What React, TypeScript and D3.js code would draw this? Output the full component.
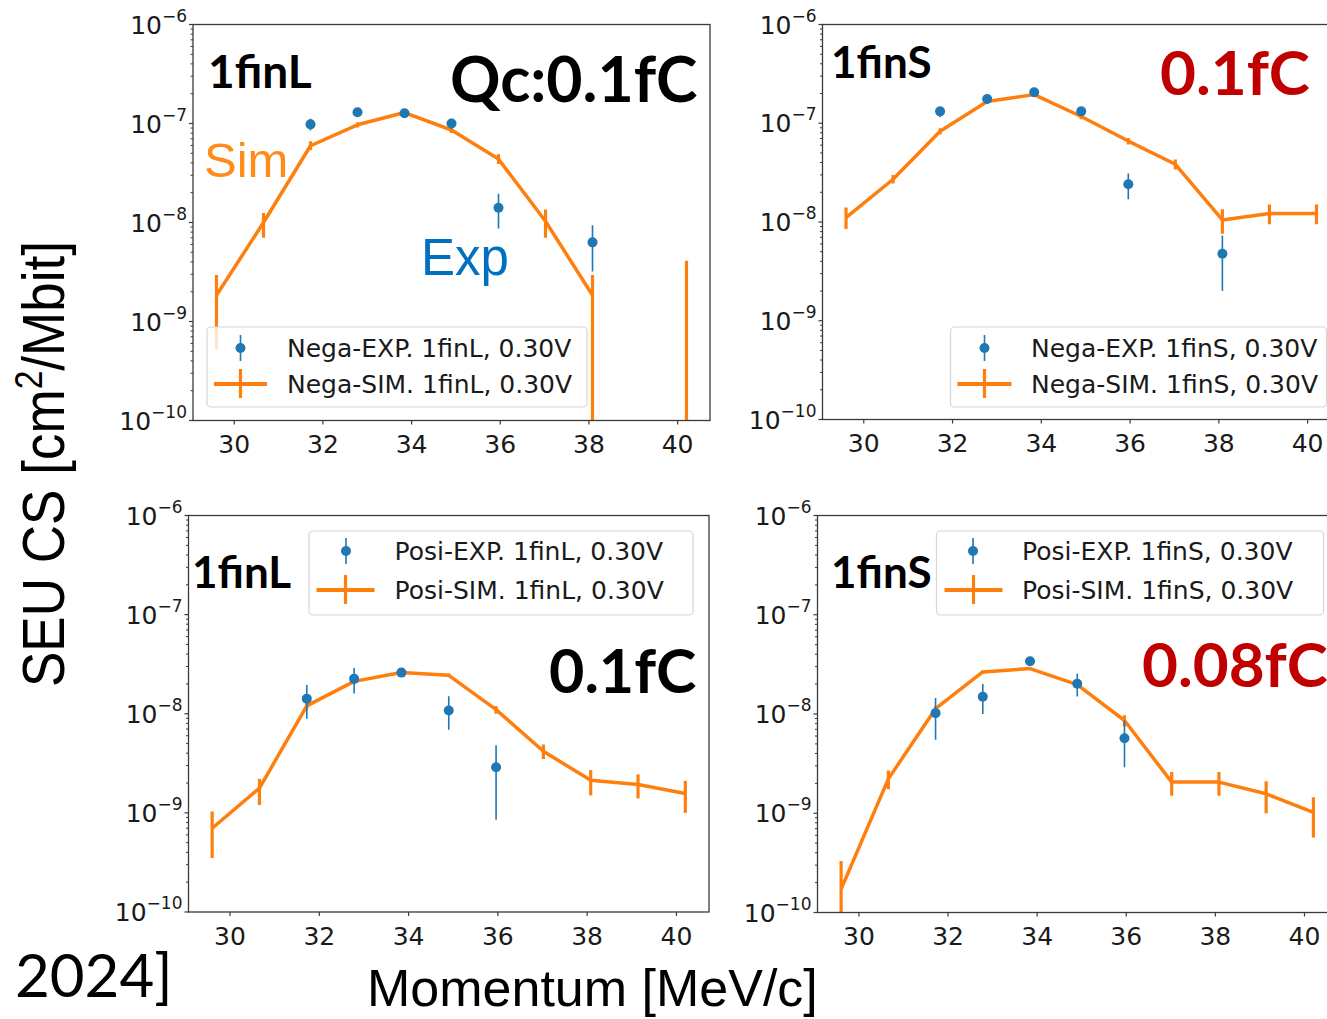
import React from 'react';
import * as d3 from 'd3';

// ---------- data ----------
const momentum = [29.6, 30.66, 31.72, 32.78, 33.84, 34.9, 35.96, 37.02, 38.08, 39.14, 40.2];
const expMomentumTop = [31.72, 32.78, 33.84, 34.9, 35.96, 38.08];
const expMomentumBottom = [31.72, 32.78, 33.84, 34.9, 35.96];
const xTicks = [30, 32, 34, 36, 38, 40];
const yTickExponents = [-6, -7, -8, -9, -10];

// null value = zero (not drawable on log axis); lo 0 = error bar reaches below axis
const negaSim1finL = [1.84e-9, 1.0e-8, 5.96e-8, 9.7e-8, 1.29e-7, 8.6e-8, 4.37e-8, 1.03e-8, 1.84e-9, null, null];
const negaSim1finLLo = [5.2e-10, 7.0e-9, 5.4e-8, 9.1e-8, 1.22e-7, 8.0e-8, 3.9e-8, 7.0e-9, 0, null, 0];
const negaSim1finLHi = [2.95e-9, 1.25e-8, 6.6e-8, 1.03e-7, 1.36e-7, 9.2e-8, 4.9e-8, 1.35e-8, 2.95e-9, null, 4.1e-9];
const negaExp1finL = [9.8e-8, 1.3e-7, 1.27e-7, 1.0e-7, 1.41e-8, 6.3e-9];
const negaExp1finLLo = [8.5e-8, 1.18e-7, 1.17e-7, 8.8e-8, 8.7e-9, 3.2e-9];
const negaExp1finLHi = [1.12e-7, 1.42e-7, 1.37e-7, 1.12e-7, 1.95e-8, 9.4e-9];

const negaSim1finS = [1.11e-8, 2.71e-8, 8.3e-8, 1.66e-7, 1.95e-7, 1.17e-7, 6.6e-8, 3.84e-8, 1.05e-8, 1.22e-8, 1.22e-8];
const negaSim1finSLo = [8.5e-9, 2.45e-8, 7.7e-8, 1.58e-7, 1.88e-7, 1.1e-7, 6.1e-8, 3.4e-8, 7.6e-9, 9.5e-9, 9.5e-9];
const negaSim1finSHi = [1.4e-8, 3.0e-8, 8.9e-8, 1.74e-7, 2.02e-7, 1.24e-7, 7.1e-8, 4.3e-8, 1.35e-8, 1.5e-8, 1.5e-8];
const negaExp1finS = [1.32e-7, 1.76e-7, 2.06e-7, 1.32e-7, 2.41e-8, 4.77e-9];
const negaExp1finSLo = [1.15e-7, 1.65e-7, 1.96e-7, 1.2e-7, 1.7e-8, 2.0e-9];
const negaExp1finSHi = [1.45e-7, 1.87e-7, 2.16e-7, 1.44e-7, 3.1e-8, 7.3e-9];

const posiSim1finL = [7.0e-10, 1.78e-9, 1.2e-8, 2.12e-8, 2.61e-8, 2.44e-8, 1.1e-8, 4.18e-9, 2.13e-9, 1.93e-9, 1.57e-9];
const posiSim1finLLo = [3.5e-10, 1.2e-9, 1.1e-8, 2.0e-8, 2.5e-8, 2.35e-8, 1.0e-8, 3.5e-9, 1.5e-9, 1.4e-9, 1.0e-9];
const posiSim1finLHi = [1.03e-9, 2.2e-9, 1.3e-8, 2.25e-8, 2.72e-8, 2.55e-8, 1.2e-8, 4.9e-9, 2.7e-9, 2.45e-9, 2.1e-9];
const posiExp1finL = [1.42e-8, 2.25e-8, 2.6e-8, 1.08e-8, 2.89e-9];
const posiExp1finLLo = [8.9e-9, 1.6e-8, 2.4e-8, 6.9e-9, 8.5e-10];
const posiExp1finLHi = [1.95e-8, 2.9e-8, 2.8e-8, 1.5e-8, 4.8e-9];

const posiSim1finS = [1.72e-10, 2.22e-9, 1.13e-8, 2.65e-8, 2.87e-8, 1.98e-8, 8.6e-9, 2.06e-9, 2.06e-9, 1.57e-9, 1.02e-9];
const posiSim1finSLo = [0, 1.75e-9, 1.05e-8, 2.55e-8, 2.77e-8, 1.85e-8, 7.5e-9, 1.5e-9, 1.5e-9, 1.0e-9, 5.7e-10];
const posiSim1finSHi = [3.3e-10, 2.7e-9, 1.2e-8, 2.75e-8, 2.97e-8, 2.1e-8, 9.7e-9, 2.6e-9, 2.6e-9, 2.1e-9, 1.45e-9];
const posiExp1finS = [1.02e-8, 1.49e-8, 3.4e-8, 2.02e-8, 5.7e-9];
const posiExp1finSLo = [5.5e-9, 1.0e-8, 3.2e-8, 1.5e-8, 2.9e-9];
const posiExp1finSHi = [1.45e-8, 2.0e-8, 3.6e-8, 2.55e-8, 8.6e-9];

const ORANGE = '#ff7f0e';
const BLUE = '#1f77b4';
const DARKRED = '#c00000';
const TICKFONT = 'DejaVu Sans';
const BOLDFONT = 'Lato';

type Ann = { text: string; x: number; y: number; size: number; color: string; weight: number; family: string };

const panels = [
  {
    id: 'tl', left: 193, right: 710, top: 24.5, bottom: 420.5,
    sim: negaSim1finL, simLo: negaSim1finLLo, simHi: negaSim1finLHi,
    expX: expMomentumTop, exp: negaExp1finL, expLo: negaExp1finLLo, expHi: negaExp1finLHi,
    legend: { x: 207, y: 327, w: 380, h: 80, dotX: 240.5, row1: 348, row2: 384, lineX1: 214, lineX2: 267, textX: 287 },
    labels: ['Nega-EXP. 1finL, 0.30V', 'Nega-SIM. 1finL, 0.30V'],
  },
  {
    id: 'tr', left: 822.5, right: 1340, top: 24.5, bottom: 419.5,
    sim: negaSim1finS, simLo: negaSim1finSLo, simHi: negaSim1finSHi,
    expX: expMomentumTop, exp: negaExp1finS, expLo: negaExp1finSLo, expHi: negaExp1finSHi,
    legend: { x: 950.5, y: 327, w: 376, h: 80, dotX: 984.5, row1: 348, row2: 384, lineX1: 957.5, lineX2: 1011.5, textX: 1031 },
    labels: ['Nega-EXP. 1finS, 0.30V', 'Nega-SIM. 1finS, 0.30V'],
  },
  {
    id: 'bl', left: 188.5, right: 709, top: 515.5, bottom: 912,
    sim: posiSim1finL, simLo: posiSim1finLLo, simHi: posiSim1finLHi,
    expX: expMomentumBottom, exp: posiExp1finL, expLo: posiExp1finLLo, expHi: posiExp1finLHi,
    legend: { x: 309, y: 531, w: 384, h: 84, dotX: 346, row1: 551, row2: 590, lineX1: 316.5, lineX2: 374.5, textX: 394.5 },
    labels: ['Posi-EXP. 1finL, 0.30V', 'Posi-SIM. 1finL, 0.30V'],
  },
  {
    id: 'br', left: 817.5, right: 1337, top: 515.5, bottom: 912.5,
    sim: posiSim1finS, simLo: posiSim1finSLo, simHi: posiSim1finSHi,
    expX: expMomentumBottom, exp: posiExp1finS, expLo: posiExp1finSLo, expHi: posiExp1finSHi,
    legend: { x: 936.5, y: 531, w: 387, h: 84, dotX: 973, row1: 551, row2: 590, lineX1: 944.5, lineX2: 1002.5, textX: 1022 },
    labels: ['Posi-EXP. 1finS, 0.30V', 'Posi-SIM. 1finS, 0.30V'],
  },
];

const annotations: Ann[] = [
  { text: '1finL', x: 208, y: 88, size: 46, color: '#000', weight: 700, family: BOLDFONT },
  { text: 'Qc:0.1fC', x: 450, y: 102, size: 62.5, color: '#000', weight: 700, family: BOLDFONT },
  { text: 'Sim', x: 204, y: 177, size: 49, color: '#ff8c1a', weight: 400, family: 'Liberation Sans' },
  { text: 'Exp', x: 421, y: 275, size: 51, color: '#0070c0', weight: 400, family: 'Liberation Sans' },
  { text: '1finS', x: 831, y: 78, size: 44, color: '#000', weight: 700, family: BOLDFONT },
  { text: '0.1fC', x: 1160, y: 95, size: 62, color: DARKRED, weight: 700, family: BOLDFONT },
  { text: '1finL', x: 192, y: 588, size: 44, color: '#000', weight: 700, family: BOLDFONT },
  { text: '0.1fC', x: 549, y: 693, size: 61, color: '#000', weight: 700, family: BOLDFONT },
  { text: '1finS', x: 831, y: 588, size: 44, color: '#000', weight: 700, family: BOLDFONT },
  { text: '0.08fC', x: 1142, y: 687, size: 62, color: DARKRED, weight: 700, family: BOLDFONT },
];

function Panel({ p }: { p: typeof panels[number] }) {
  const x = d3.scaleLinear().domain([29.07, 40.73]).range([p.left, p.right]);
  const y = d3.scaleLog().domain([1e-10, 1e-6]).range([p.bottom, p.top]);
  const yv = (v: number) => (v > 0 ? y(v) : p.bottom + 30);
  const clipId = `clip-${p.id}`;

  const simPts = momentum.map((m, i) => ({ m, v: p.sim[i], lo: p.simLo[i], hi: p.simHi[i] }));
  const line = d3
    .line<{ m: number; v: number | null }>()
    .defined((d) => d.v != null && (d.v as number) > 0)
    .x((d) => x(d.m))
    .y((d) => y(d.v as number));

  const expPts = p.expX.map((m, i) => ({ m, v: p.exp[i], lo: p.expLo[i], hi: p.expHi[i] }));

  const minor: number[] = [];
  for (let k = -10; k < -6; k++) for (let j = 2; j <= 9; j++) minor.push(j * Math.pow(10, k));

  const L = p.legend;
  return (
    <g>
      <defs>
        <clipPath id={clipId}>
          <rect x={p.left} y={p.top} width={p.right - p.left} height={p.bottom - p.top} />
        </clipPath>
      </defs>
      <g clipPath={`url(#${clipId})`}>
        <path d={line(simPts as any) || ''} fill="none" stroke={ORANGE} strokeWidth={3.5} strokeLinejoin="round" />
        {simPts.map((d, i) =>
          d.hi != null ? (
            <line key={'se' + i} x1={x(d.m)} x2={x(d.m)} y1={yv(d.lo as number)} y2={yv(d.hi as number)} stroke={ORANGE} strokeWidth={3.2} />
          ) : null
        )}
        {expPts.map((d, i) => (
          <line key={'ee' + i} x1={x(d.m)} x2={x(d.m)} y1={yv(d.lo)} y2={yv(d.hi)} stroke={BLUE} strokeWidth={1.6} />
        ))}
        {expPts.map((d, i) => (
          <circle key={'ed' + i} cx={x(d.m)} cy={y(d.v)} r={5} fill={BLUE} />
        ))}
      </g>
      <rect x={p.left} y={p.top} width={p.right - p.left} height={p.bottom - p.top} fill="none" stroke="#3a3a3a" strokeWidth={1.3} />
      {xTicks.map((t) => (
        <g key={'xt' + t}>
          <line x1={x(t)} x2={x(t)} y1={p.bottom} y2={p.bottom + 4} stroke="#3a3a3a" strokeWidth={1.2} />
          <text x={x(t)} y={p.bottom + 32.5} textAnchor="middle" fontFamily={TICKFONT} fontSize={25} fill="#1a1a1a">
            {t}
          </text>
        </g>
      ))}
      {minor.map((v, i) => (
        <line key={'ym' + i} x1={p.left - 2.5} x2={p.left} y1={y(v)} y2={y(v)} stroke="#3a3a3a" strokeWidth={1} />
      ))}
      {yTickExponents.map((e) => (
        <g key={'yt' + e}>
          <line x1={p.left - 4} x2={p.left} y1={y(Math.pow(10, e))} y2={y(Math.pow(10, e))} stroke="#3a3a3a" strokeWidth={1.2} />
          <text x={p.left - 6} y={y(Math.pow(10, e)) + 9} textAnchor="end" fontFamily={TICKFONT} fontSize={25} fill="#1a1a1a">
            <tspan>10</tspan>
            <tspan dy={-12} fontSize={17}>{'\u2212' + Math.abs(e)}</tspan>
          </text>
        </g>
      ))}
      <g>
        <rect x={L.x} y={L.y} width={L.w} height={L.h} rx={4} fill="#ffffff" fillOpacity={0.8} stroke="#d6d6d6" strokeWidth={1.2} />
        <line x1={L.dotX} x2={L.dotX} y1={L.row1 - 13} y2={L.row1 + 13} stroke={BLUE} strokeWidth={1.6} />
        <circle cx={L.dotX} cy={L.row1} r={5} fill={BLUE} />
        <text x={L.textX} y={L.row1 + 9} fontFamily={TICKFONT} fontSize={25} fill="#1a1a1a">{p.labels[0]}</text>
        <line x1={L.lineX1} x2={L.lineX2} y1={L.row2} y2={L.row2} stroke={ORANGE} strokeWidth={3.8} />
        <line x1={(L.lineX1 + L.lineX2) / 2} x2={(L.lineX1 + L.lineX2) / 2} y1={L.row2 - 15} y2={L.row2 + 14} stroke={ORANGE} strokeWidth={3.2} />
        <text x={L.textX} y={L.row2 + 9} fontFamily={TICKFONT} fontSize={25} fill="#1a1a1a">{p.labels[1]}</text>
      </g>
    </g>
  );
}

export default function App() {
  return (
    <svg width={1327} height={1019} style={{ position: 'absolute', left: 0, top: 0, background: '#fff' }}>
      <rect x={0} y={0} width={1327} height={1019} fill="#ffffff" />
      {panels.map((p) => (
        <Panel key={p.id} p={p} />
      ))}
      {annotations.map((a, i) => (
        <text key={'an' + i} x={a.x} y={a.y} fontSize={a.size} fontWeight={a.weight} fontFamily={a.family} fill={a.color}>
          {a.text}
        </text>
      ))}
      <text
        transform="translate(64,464) rotate(-90)"
        textAnchor="middle"
        fontFamily="Liberation Sans"
        fontSize={60}
        textLength={446}
        lengthAdjust="spacingAndGlyphs"
        fill="#000"
      >
        <tspan>SEU CS [cm</tspan>
        <tspan dy={-22} fontSize={38}>2</tspan>
        <tspan dy={22}>/Mbit]</tspan>
      </text>
      <text x={15} y={997} fontFamily="Lato" fontSize={60} fill="#000">2024]</text>
      <text x={367} y={1006} fontFamily="Liberation Sans" fontSize={52} fill="#000">
        Momentum [MeV/c]
      </text>
    </svg>
  );
}
